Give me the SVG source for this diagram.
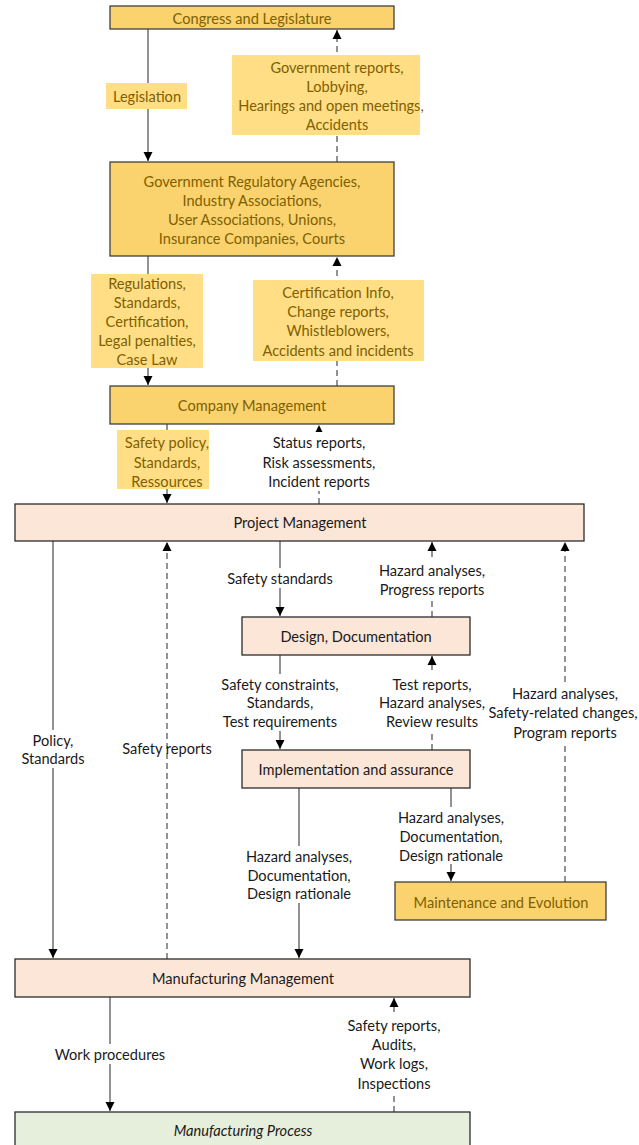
<svg xmlns="http://www.w3.org/2000/svg" width="639" height="1145" viewBox="0 0 639 1145">
  <style>
    text { font-family: Lato, "Open Sans", "Liberation Sans", sans-serif; font-size: 14.6px; text-anchor: middle; dominant-baseline: central; }
    .gold { fill: #FAD36F; stroke: #3f3f3f; stroke-width: 1.3; }
    .peach { fill: #FCE6D8; stroke: #2b2b2b; stroke-width: 1.3; }
    .green { fill: #E6EFDC; stroke: #2b2b2b; stroke-width: 1.3; }
    .lbl { fill: #FFDE85; }
    .bg { fill: #ffffff; }
    .gt { fill: #7F6000; }
    .dt { fill: #1a1a1a; }
    .solid { stroke: #595959; stroke-width: 1.3; fill: none; marker-end: url(#arr); }
    .dash { stroke: #595959; stroke-width: 1.3; fill: none; stroke-dasharray: 6 4; marker-end: url(#arr); }
  </style>
  <defs>
    <marker id="arr" viewBox="0 0 10 10" refX="10" refY="5" markerWidth="9" markerHeight="11" markerUnits="userSpaceOnUse" orient="auto">
      <path d="M0,0 L10,5 L0,10 z" fill="#000"/>
    </marker>
  </defs>

  <rect width="639" height="1145" fill="#ffffff"/>

  <!-- connectors -->
  <g id="connectors">
    <line class="solid" x1="148" y1="29" x2="148" y2="161"/>
    <line class="dash" x1="337" y1="162" x2="337" y2="30"/>
    <line class="solid" x1="148" y1="256" x2="148" y2="385"/>
    <line class="dash" x1="337" y1="386" x2="337" y2="257"/>
    <line class="solid" x1="167" y1="424" x2="167" y2="503"/>
    <line class="dash" x1="319" y1="504" x2="319" y2="425"/>
    <line class="solid" x1="53" y1="541" x2="53" y2="958"/>
    <line class="dash" x1="167" y1="959" x2="167" y2="542"/>
    <line class="solid" x1="280" y1="541" x2="280" y2="616"/>
    <line class="dash" x1="432" y1="617" x2="432" y2="542"/>
    <line class="solid" x1="280" y1="655" x2="280" y2="749"/>
    <line class="dash" x1="432" y1="750" x2="432" y2="656"/>
    <line class="dash" x1="565" y1="882" x2="565" y2="542"/>
    <line class="solid" x1="299" y1="788" x2="299" y2="958"/>
    <line class="solid" x1="451" y1="788" x2="451" y2="881"/>
    <line class="solid" x1="110" y1="997" x2="110" y2="1111"/>
    <line class="dash" x1="394" y1="1112" x2="394" y2="998"/>
  </g>

  <!-- connector labels -->
  <g id="labels">
    <rect class="lbl" x="106" y="83" width="81" height="26"/>
    <text class="gt" x="147" y="96">Legislation</text>

    <rect class="lbl" x="232" y="55" width="188" height="80"/>
    <text class="gt" x="337" y="67">Government reports,</text>
    <text class="gt" x="337" y="86">Lobbying,</text>
    <text class="gt" x="331" y="105">Hearings and open meetings,</text>
    <text class="gt" x="337" y="124">Accidents</text>

    <rect class="lbl" x="91" y="274" width="112" height="94"/>
    <text class="gt" x="147" y="283">Regulations,</text>
    <text class="gt" x="147" y="302">Standards,</text>
    <text class="gt" x="147" y="321">Certification,</text>
    <text class="gt" x="147" y="340">Legal penalties,</text>
    <text class="gt" x="147" y="359">Case Law</text>

    <rect class="lbl" x="253" y="280" width="171" height="81"/>
    <text class="gt" x="338" y="292">Certification Info,</text>
    <text class="gt" x="338" y="311">Change reports,</text>
    <text class="gt" x="338" y="330">Whistleblowers,</text>
    <text class="gt" x="338" y="350">Accidents and incidents</text>

    <rect class="lbl" x="117" y="430" width="92" height="59"/>
    <text class="gt" x="167" y="442">Safety policy,</text>
    <text class="gt" x="167" y="462">Standards,</text>
    <text class="gt" x="167" y="481">Ressources</text>

    <rect class="bg" x="254" y="432" width="130" height="59"/>
    <text class="dt" x="319" y="442">Status reports,</text>
    <text class="dt" x="319" y="462">Risk assessments,</text>
    <text class="dt" x="319" y="481">Incident reports</text>

    <rect class="bg" x="16" y="730" width="74" height="38"/>
    <text class="dt" x="53" y="740">Policy,</text>
    <text class="dt" x="53" y="758">Standards</text>

    <text class="dt" x="167" y="748">Safety reports</text>

    <rect class="bg" x="222" y="568" width="116" height="20"/>
    <text class="dt" x="280" y="578">Safety standards</text>

    <rect class="bg" x="374" y="560" width="116" height="39"/>
    <text class="dt" x="432" y="570">Hazard analyses,</text>
    <text class="dt" x="432" y="589">Progress reports</text>

    <rect class="bg" x="217" y="674" width="126" height="57"/>
    <text class="dt" x="280" y="684">Safety constraints,</text>
    <text class="dt" x="280" y="702">Standards,</text>
    <text class="dt" x="280" y="721">Test requirements</text>

    <rect class="bg" x="375" y="674" width="114" height="57"/>
    <text class="dt" x="432" y="684">Test reports,</text>
    <text class="dt" x="432" y="702">Hazard analyses,</text>
    <text class="dt" x="432" y="721">Review results</text>

    <rect class="bg" x="489" y="683" width="150" height="59"/>
    <text class="dt" x="565" y="693">Hazard analyses,</text>
    <text class="dt" x="563" y="712">Safety-related changes,</text>
    <text class="dt" x="565" y="732">Program reports</text>

    <rect class="bg" x="242" y="846" width="116" height="57"/>
    <text class="dt" x="299" y="856">Hazard analyses,</text>
    <text class="dt" x="299" y="875">Documentation,</text>
    <text class="dt" x="299" y="893">Design rationale</text>

    <rect class="bg" x="394" y="807" width="116" height="57"/>
    <text class="dt" x="451" y="817">Hazard analyses,</text>
    <text class="dt" x="451" y="836">Documentation,</text>
    <text class="dt" x="451" y="855">Design rationale</text>

    <rect class="bg" x="50" y="1044" width="120" height="20"/>
    <text class="dt" x="110" y="1054">Work procedures</text>

    <rect class="bg" x="342" y="1015" width="104" height="78"/>
    <text class="dt" x="394" y="1025">Safety reports,</text>
    <text class="dt" x="394" y="1044">Audits,</text>
    <text class="dt" x="394" y="1063">Work logs,</text>
    <text class="dt" x="394" y="1083">Inspections</text>
  </g>

  <!-- nodes -->
  <g id="congress">
    <rect class="gold" x="110" y="6" width="284" height="23"/>
    <text class="gt" x="252" y="18">Congress and Legislature</text>
  </g>
  <g id="regulators">
    <rect class="gold" x="110" y="162" width="284" height="94"/>
    <text class="gt" x="252" y="181">Government Regulatory Agencies,</text>
    <text class="gt" x="252" y="200">Industry Associations,</text>
    <text class="gt" x="252" y="219">User Associations, Unions,</text>
    <text class="gt" x="252" y="238">Insurance Companies, Courts</text>
  </g>
  <g id="company">
    <rect class="gold" x="110" y="386" width="284" height="38"/>
    <text class="gt" x="252" y="405">Company Management</text>
  </g>
  <g id="project">
    <rect class="peach" x="15" y="504" width="569" height="37"/>
    <text class="dt" x="300" y="522">Project Management</text>
  </g>
  <g id="design">
    <rect class="peach" x="242" y="617" width="228" height="38"/>
    <text class="dt" x="356" y="636">Design, Documentation</text>
  </g>
  <g id="implementation">
    <rect class="peach" x="242" y="750" width="228" height="38"/>
    <text class="dt" x="356" y="769">Implementation and assurance</text>
  </g>
  <g id="maintenance">
    <rect class="gold" x="395" y="882" width="211" height="38"/>
    <text class="gt" x="501" y="902">Maintenance and Evolution</text>
  </g>
  <g id="manufacturing-mgmt">
    <rect class="peach" x="15" y="959" width="455" height="38"/>
    <text class="dt" x="243" y="978">Manufacturing Management</text>
  </g>
  <g id="manufacturing-process">
    <rect class="green" x="15" y="1112" width="455" height="40"/>
    <text class="dt" x="243" y="1130" font-style="italic">Manufacturing Process</text>
  </g>
</svg>
